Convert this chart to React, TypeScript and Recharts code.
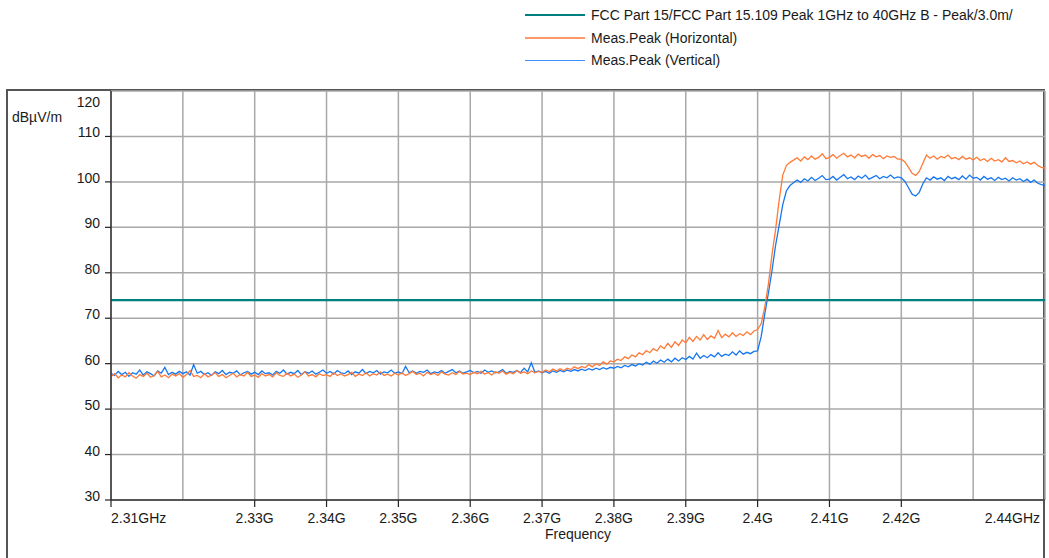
import { LineChart, Line, XAxis, YAxis, CartesianGrid, ReferenceLine } from 'recharts';

// sweep starts at 2.31 GHz, one reading every 0.5 MHz
const sweepStart = 2.31;
const sweepStep = 0.0005;

// Meas.Peak (Horizontal), dBµV/m
const horizontalPeak = [
  57.2, 57.8, 56.9, 57.5, 57.1, 58.0, 57.3, 56.8, 57.6, 57.2, 57.9, 57.0, 57.4, 58.3, 57.1, 57.5, 56.9, 57.7, 57.3, 57.8,
  57.0, 57.6, 58.5, 57.2, 57.4, 56.9, 57.8, 57.1, 57.5, 58.0, 57.2, 57.6, 56.9, 57.4, 57.9, 57.1, 57.6, 57.3, 58.1, 57.2,
  57.5, 57.0, 57.8, 57.3, 57.6, 57.1, 58.0, 57.4, 57.2, 57.9, 57.3, 57.7, 57.0, 57.5, 58.2, 57.3, 57.6, 57.1, 57.8, 57.4,
  57.6, 57.2, 58.0, 57.4, 57.8, 57.3, 57.6, 58.1, 57.2, 57.7, 57.4, 58.0, 57.3, 57.8, 57.5, 58.2, 57.4, 57.7, 57.3, 57.9,
  57.5, 58.0, 57.4, 57.8, 58.3, 57.6, 57.9, 57.3, 58.1, 57.6, 57.9, 57.4, 58.2, 57.7, 57.5, 58.0, 57.6, 58.3, 57.7, 57.9,
  57.6, 58.1, 57.8, 58.3, 57.7, 58.0, 57.5, 58.2, 57.9, 58.4, 57.7, 58.1, 57.8, 58.5, 57.9, 58.2, 57.8, 58.4, 58.0, 58.3,
  58.1, 58.6, 58.2, 58.8, 58.4, 58.9, 58.5, 59.0, 58.7, 59.3, 58.9, 59.4, 59.1, 59.8, 59.3, 60.0, 59.6, 60.4, 59.9, 60.6,
  60.4, 61.0, 60.7, 61.5, 61.1, 61.9, 61.5, 62.4, 62.0, 62.9, 62.4, 63.3, 62.8, 63.9, 63.3, 64.5, 63.6, 64.8, 64.0, 65.2,
  64.6, 65.8, 64.9, 66.0, 65.2, 66.4, 65.3, 66.1, 65.6, 67.3, 65.7, 66.5, 65.9, 66.8, 66.0, 66.6, 66.2, 67.0, 66.4, 67.2,
  67.5, 68.8, 72.5, 77.5, 84.0, 89.5, 96.0, 101.5, 103.6, 104.3, 104.8, 105.3, 104.6, 105.5, 104.9, 105.7, 105.0, 105.4, 106.2, 105.1,
  105.4, 106.0, 105.2, 105.8, 106.3, 105.5, 105.9, 105.3, 106.1, 105.6, 105.9, 105.2, 106.0, 105.5, 105.8, 105.1, 105.7, 105.4, 105.6, 105.0,
  105.0, 104.4, 103.2, 101.9, 101.4, 102.3, 104.1, 105.9, 105.2, 105.7, 105.0, 105.6, 105.3, 105.9, 105.1, 105.4, 104.9, 105.6, 105.0, 105.3,
  104.8, 105.4, 104.7, 105.1, 104.5, 105.2, 104.6, 104.9, 104.4, 105.3, 104.5, 104.7, 104.2, 104.6, 104.0, 104.4, 103.9, 104.3, 103.6, 103.2,
  103.0,
];

// Meas.Peak (Vertical), dBµV/m
const verticalPeak = [
  57.9, 57.4, 58.3, 57.6, 58.1, 57.2, 58.0, 57.7, 58.6, 57.5, 58.2, 57.8, 57.3, 58.4, 57.9, 59.2, 57.6, 58.1, 57.7, 58.3,
  57.8, 58.2, 57.5, 59.8, 57.9, 58.3, 57.6, 58.0, 57.4, 58.2, 57.8, 58.5, 57.6, 58.1, 57.9, 58.4, 57.5, 58.0, 58.3, 57.7,
  58.1, 57.6, 58.4, 57.8, 58.0, 57.5, 58.3, 57.9, 58.6, 57.7, 58.1, 57.8, 58.5, 57.6, 58.2, 57.9, 58.4, 57.7, 58.1, 58.6,
  57.9, 58.3, 57.7, 58.5, 58.0, 57.8, 58.4, 57.6, 58.2, 57.9, 58.7, 57.8, 58.3, 58.0, 58.5, 57.7, 58.2, 58.0, 58.6, 57.9,
  58.2, 57.8, 59.4, 58.0, 58.4, 57.9, 58.3, 58.1, 58.6, 57.8, 58.2, 58.0, 58.5, 57.9, 58.3, 58.7, 58.0, 58.4, 57.9, 58.2,
  58.5, 58.0, 58.3, 57.9, 58.6, 58.1, 58.4, 58.0, 58.2, 58.7, 57.9, 58.3, 58.1, 58.5, 58.0, 59.0, 58.2, 60.2, 58.1, 58.4,
  58.0, 58.3, 57.9, 58.4, 58.1, 58.5, 58.2, 58.6, 58.3, 58.7, 58.4, 58.8, 58.5, 58.9, 58.6, 59.0, 58.7, 59.1, 58.8, 59.2,
  59.0, 59.4, 59.1, 59.6, 59.3, 59.8, 59.5, 60.0, 59.7, 60.3, 59.9, 60.6, 60.1, 60.8, 60.3, 61.0, 60.4, 61.2, 60.6, 61.3,
  60.9, 61.6, 61.0, 62.3, 61.2, 61.8, 61.3, 62.0, 61.5, 62.4, 61.6, 62.1, 61.8, 62.6, 61.9, 62.8, 62.1, 62.5, 62.2, 62.7,
  62.8, 66.0, 71.0, 75.5, 80.5, 86.0, 90.5, 95.0, 98.0, 99.2, 99.8, 100.4, 99.9, 100.7, 100.2, 101.0, 100.3, 100.8, 101.4, 100.5,
  100.6, 101.2, 100.4, 101.0, 101.6, 100.7, 101.1, 100.5, 101.3, 100.8, 101.5, 100.6, 101.0, 101.4, 100.7, 101.2, 100.9, 101.5, 100.8, 101.1,
  100.9, 100.1, 98.7, 97.3, 96.9, 97.7, 99.6, 100.9, 100.4, 101.1, 100.6, 100.9, 100.3, 101.2, 100.7, 101.0, 100.5, 101.3, 100.6, 101.5,
  100.8, 101.0, 100.4, 101.2, 100.6, 100.9, 100.3, 101.0, 100.5, 100.8, 100.2, 100.9, 100.4, 100.7, 100.1, 100.6, 99.9, 100.4, 99.7, 99.4,
  99.2,
];

// FCC Part 15.109 peak limit
const limitLevel = 74;

const xTicks = [2.31, 2.32, 2.33, 2.34, 2.35, 2.36, 2.37, 2.38, 2.39, 2.4, 2.41, 2.42, 2.43, 2.44];
const xTickLabels = ['2.31GHz', '', '2.33G', '2.34G', '2.35G', '2.36G', '2.37G', '2.38G', '2.39G', '2.4G', '2.41G', '2.42G', '', '2.44GHz'];
const yTicks = [30, 40, 50, 60, 70, 80, 90, 100, 110, 120];

const legendItems = [
  { name: 'FCC Part 15/FCC Part 15.109 Peak 1GHz to 40GHz B - Peak/3.0m/', color: '#008080', width: 2 },
  { name: 'Meas.Peak (Horizontal)', color: '#ff9966', width: 1.5 },
  { name: 'Meas.Peak (Vertical)', color: '#3d8fff', width: 1.5 },
];

const data = horizontalPeak.map((h, i) => ({
  f: +(sweepStart + i * sweepStep).toFixed(4),
  h,
  v: verticalPeak[i],
}));

const FONT = '"Liberation Sans", Arial, sans-serif';
const PLOT_BOTTOM = 500;
const PLOT_TOP = 91;

function XTick(props: any) {
  const { x, payload } = props;
  const idx = xTicks.findIndex(t => Math.abs(t - payload.value) < 1e-6);
  const label = xTickLabels[idx] ?? '';
  if (!label) return null;
  let anchor: 'start' | 'middle' | 'end' = 'middle';
  let tx = x;
  if (idx === 0) anchor = 'start';
  if (idx === xTicks.length - 1) {
    anchor = 'end';
    tx = x - 5;
  }
  return (
    <g>
      {idx !== xTicks.length - 1 && <line x1={x} y1={PLOT_BOTTOM} x2={x} y2={PLOT_BOTTOM + 7} stroke="#222" strokeWidth={1.2} />}
      <text x={tx} y={PLOT_BOTTOM + 23} textAnchor={anchor} fontSize={14} fontFamily={FONT} fill="#1a1a1a">
        {label}
      </text>
    </g>
  );
}

function YTick(props: any) {
  const { y, payload } = props;
  const top = payload.value === 120;
  return (
    <g>
      {!top && <line x1={105} y1={y} x2={111} y2={y} stroke="#222" strokeWidth={1.2} />}
      <text x={100} y={top ? y + 16 : y + 1} textAnchor="end" fontSize={14} fontFamily={FONT} fill="#1a1a1a">
        {payload.value}
      </text>
    </g>
  );
}

function LegendBox() {
  return (
    <div style={{ position: 'absolute', left: 525, top: 4, fontFamily: FONT, fontSize: 14, color: '#1a1a1a' }}>
      {legendItems.map(item => (
        <div key={item.name} style={{ display: 'flex', alignItems: 'center', height: 22.5 }}>
          <div style={{ width: 60, height: item.width, background: item.color, marginRight: 6 }} />
          <span>{item.name}</span>
        </div>
      ))}
    </div>
  );
}

export default function App() {
  return (
    <div style={{ position: 'absolute', left: 0, top: 0, width: 1049, height: 558, background: '#fff', overflow: 'hidden' }}>
      <div
        style={{
          position: 'absolute',
          left: 6,
          top: 89,
          width: 1039,
          height: 500,
          border: '2px solid #555',
          boxSizing: 'border-box',
        }}
      />
      <LegendBox />
      <div style={{ position: 'absolute', left: 12, top: 109, fontFamily: FONT, fontSize: 14, color: '#1a1a1a' }}>dBµV/m</div>
      <div style={{ position: 'absolute', left: 0, top: 526, width: 1156, textAlign: 'center', fontFamily: FONT, fontSize: 14, color: '#1a1a1a' }}>
        Frequency
      </div>
      <div style={{ position: 'absolute', left: 0, top: 0 }}>
        <LineChart width={1049} height={558} data={data} margin={{ top: PLOT_TOP, left: 51, right: 4, bottom: 28 }}>
          <CartesianGrid stroke="#a8a8a8" strokeWidth={1.5} />
          <XAxis
            dataKey="f"
            type="number"
            domain={[2.31, 2.44]}
            ticks={xTicks}
            interval={0}
            height={30}
            tick={<XTick />}
            tickLine={false}
            axisLine={{ stroke: '#333', strokeWidth: 1.5 }}
            allowDataOverflow
          />
          <YAxis
            type="number"
            domain={[30, 120]}
            ticks={yTicks}
            interval={0}
            width={60}
            tick={<YTick />}
            tickLine={false}
            axisLine={{ stroke: '#333', strokeWidth: 1.5 }}
            allowDataOverflow
          />
          <ReferenceLine y={limitLevel} stroke="#008080" strokeWidth={2.2} ifOverflow="visible" />
          <Line dataKey="v" type="linear" stroke="#1677f2" strokeWidth={1.3} dot={false} isAnimationActive={false} />
          <Line dataKey="h" type="linear" stroke="#ff7a36" strokeWidth={1.3} dot={false} isAnimationActive={false} />
        </LineChart>
      </div>
    </div>
  );
}
